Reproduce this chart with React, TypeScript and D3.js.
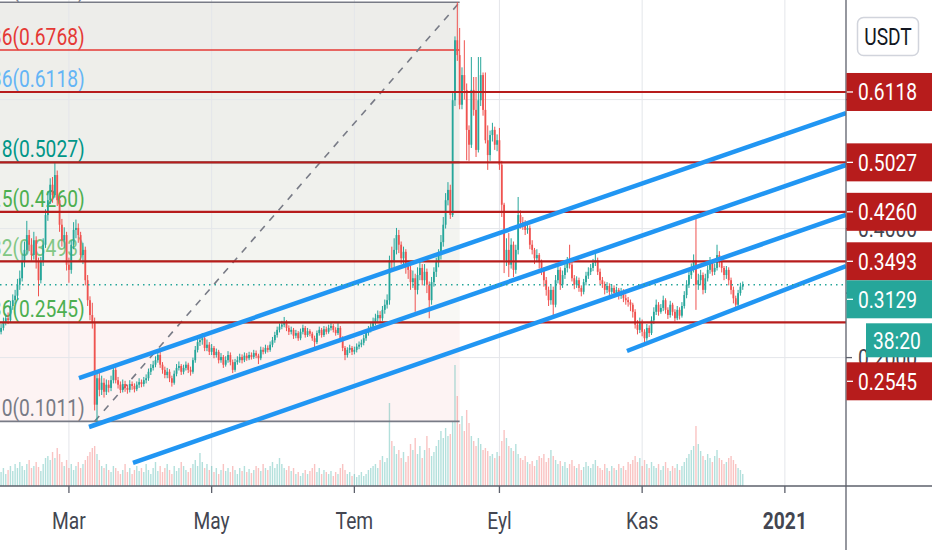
import React from 'react'
import * as d3 from 'd3'

// daily candles from 1 Feb 2020, open = previous close
const firstDay = Date.UTC(2020, 1, 1)
const firstOpen = 0.24
const closes = [
  0.246, 0.255, 0.261, 0.258, 0.280, 0.289, 0.296, 0.313, 0.323, 0.348,
  0.367, 0.390, 0.375, 0.359, 0.382, 0.348, 0.320, 0.348, 0.375, 0.421,
  0.444, 0.468, 0.452, 0.483, 0.444, 0.406, 0.382, 0.390, 0.344, 0.336,
  0.375, 0.398, 0.401, 0.390, 0.359, 0.367, 0.320, 0.289, 0.266, 0.255,
  0.127, 0.168, 0.150, 0.161, 0.147, 0.158, 0.153, 0.165, 0.181, 0.165,
  0.158, 0.150, 0.159, 0.153, 0.150, 0.159, 0.156, 0.151, 0.158, 0.162,
  0.159, 0.165, 0.168, 0.178, 0.184, 0.189, 0.196, 0.204, 0.189, 0.181,
  0.173, 0.178, 0.168, 0.161, 0.175, 0.184, 0.187, 0.178, 0.184, 0.189,
  0.181, 0.178, 0.196, 0.212, 0.224, 0.227, 0.230, 0.215, 0.220, 0.209,
  0.215, 0.204, 0.209, 0.196, 0.201, 0.189, 0.196, 0.204, 0.193, 0.181,
  0.193, 0.196, 0.201, 0.196, 0.203, 0.199, 0.204, 0.201, 0.207, 0.203,
  0.199, 0.212, 0.209, 0.215, 0.212, 0.220, 0.227, 0.235, 0.243, 0.248,
  0.251, 0.255, 0.246, 0.240, 0.243, 0.234, 0.238, 0.230, 0.240, 0.246,
  0.235, 0.241, 0.237, 0.230, 0.224, 0.238, 0.243, 0.235, 0.244, 0.240,
  0.246, 0.249, 0.243, 0.238, 0.246, 0.230, 0.215, 0.204, 0.212, 0.215,
  0.209, 0.212, 0.217, 0.220, 0.223, 0.230, 0.238, 0.243, 0.248, 0.255,
  0.261, 0.266, 0.261, 0.274, 0.282, 0.289, 0.351, 0.348, 0.367, 0.390,
  0.375, 0.354, 0.364, 0.344, 0.336, 0.317, 0.323, 0.305, 0.328, 0.339,
  0.320, 0.333, 0.313, 0.289, 0.317, 0.333, 0.348, 0.359, 0.379, 0.406,
  0.444, 0.460, 0.421, 0.599, 0.692, 0.669, 0.592, 0.638, 0.615, 0.553,
  0.530, 0.615, 0.584, 0.522, 0.599, 0.638, 0.584, 0.537, 0.514, 0.545,
  0.553, 0.530, 0.537, 0.499, 0.437, 0.351, 0.367, 0.344, 0.375, 0.336,
  0.367, 0.421, 0.410, 0.406, 0.398, 0.401, 0.375, 0.367, 0.354, 0.359,
  0.348, 0.336, 0.320, 0.305, 0.289, 0.305, 0.282, 0.320, 0.336, 0.313,
  0.328, 0.339, 0.348, 0.344, 0.323, 0.313, 0.320, 0.308, 0.302, 0.317,
  0.327, 0.333, 0.339, 0.347, 0.351, 0.333, 0.320, 0.314, 0.305, 0.311,
  0.302, 0.308, 0.300, 0.305, 0.296, 0.302, 0.292, 0.289, 0.286, 0.282,
  0.271, 0.251, 0.243, 0.255, 0.240, 0.230, 0.246, 0.238, 0.258, 0.271,
  0.282, 0.271, 0.277, 0.289, 0.274, 0.266, 0.282, 0.271, 0.261, 0.274,
  0.265, 0.280, 0.297, 0.313, 0.328, 0.339, 0.351, 0.313, 0.320, 0.328,
  0.305, 0.323, 0.336, 0.348, 0.333, 0.339, 0.359, 0.348, 0.339, 0.328,
  0.336, 0.320, 0.305, 0.292, 0.282, 0.300, 0.310, 0.3129,
]
const highs = [
  0.252, 0.262, 0.268, 0.270, 0.288, 0.298, 0.305, 0.322, 0.335, 0.360,
  0.380, 0.412, 0.398, 0.385, 0.395, 0.388, 0.355, 0.356, 0.385, 0.430,
  0.458, 0.478, 0.480, 0.503, 0.490, 0.450, 0.415, 0.402, 0.395, 0.355,
  0.382, 0.410, 0.414, 0.408, 0.395, 0.378, 0.372, 0.328, 0.295, 0.285,
  0.262, 0.180, 0.182, 0.172, 0.168, 0.166, 0.165, 0.172, 0.186, 0.185,
  0.170, 0.163, 0.166, 0.164, 0.158, 0.165, 0.163, 0.160, 0.163, 0.168,
  0.166, 0.170, 0.174, 0.183, 0.190, 0.195, 0.202, 0.212, 0.212, 0.193,
  0.186, 0.184, 0.182, 0.172, 0.180, 0.190, 0.194, 0.190, 0.189, 0.194,
  0.192, 0.186, 0.200, 0.218, 0.232, 0.234, 0.238, 0.234, 0.228, 0.224,
  0.221, 0.218, 0.214, 0.212, 0.207, 0.204, 0.202, 0.210, 0.208, 0.197,
  0.198, 0.202, 0.206, 0.205, 0.208, 0.207, 0.209, 0.208, 0.212, 0.211,
  0.206, 0.217, 0.216, 0.220, 0.219, 0.225, 0.232, 0.240, 0.248, 0.253,
  0.257, 0.263, 0.258, 0.250, 0.248, 0.246, 0.243, 0.241, 0.245, 0.251,
  0.249, 0.246, 0.244, 0.240, 0.234, 0.242, 0.248, 0.246, 0.249, 0.248,
  0.251, 0.254, 0.252, 0.247, 0.255, 0.249, 0.233, 0.218, 0.216, 0.220,
  0.218, 0.217, 0.222, 0.225, 0.228, 0.235, 0.243, 0.249, 0.254, 0.262,
  0.268, 0.273, 0.272, 0.280, 0.290, 0.298, 0.358, 0.372, 0.385, 0.401,
  0.398, 0.380, 0.372, 0.368, 0.350, 0.342, 0.335, 0.330, 0.340, 0.352,
  0.345, 0.345, 0.338, 0.318, 0.325, 0.340, 0.355, 0.368, 0.390, 0.418,
  0.455, 0.472, 0.468, 0.610, 0.698, 0.751, 0.711, 0.650, 0.692, 0.625,
  0.560, 0.666, 0.635, 0.635, 0.666, 0.666, 0.642, 0.642, 0.560, 0.552,
  0.564, 0.558, 0.546, 0.556, 0.505, 0.440, 0.385, 0.393, 0.385, 0.380,
  0.375, 0.449, 0.428, 0.418, 0.413, 0.410, 0.405, 0.382, 0.370, 0.368,
  0.362, 0.352, 0.340, 0.325, 0.310, 0.312, 0.310, 0.328, 0.345, 0.340,
  0.335, 0.346, 0.356, 0.375, 0.348, 0.328, 0.326, 0.324, 0.312, 0.322,
  0.333, 0.340, 0.345, 0.353, 0.362, 0.355, 0.338, 0.325, 0.318, 0.317,
  0.315, 0.314, 0.312, 0.310, 0.308, 0.308, 0.306, 0.298, 0.294, 0.290,
  0.285, 0.275, 0.258, 0.262, 0.259, 0.244, 0.252, 0.250, 0.264, 0.278,
  0.290, 0.286, 0.283, 0.296, 0.292, 0.278, 0.288, 0.285, 0.275, 0.280,
  0.278, 0.286, 0.303, 0.320, 0.335, 0.346, 0.360, 0.421, 0.330, 0.336,
  0.332, 0.330, 0.343, 0.356, 0.352, 0.346, 0.375, 0.365, 0.352, 0.342,
  0.342, 0.340, 0.324, 0.310, 0.296, 0.305, 0.316, 0.318,
]
const lows = [
  0.236, 0.242, 0.250, 0.252, 0.255, 0.274, 0.283, 0.290, 0.305, 0.318,
  0.340, 0.360, 0.365, 0.350, 0.352, 0.338, 0.295, 0.315, 0.342, 0.370,
  0.412, 0.438, 0.440, 0.448, 0.435, 0.395, 0.372, 0.370, 0.335, 0.316,
  0.330, 0.368, 0.385, 0.378, 0.350, 0.345, 0.312, 0.280, 0.258, 0.245,
  0.118, 0.101, 0.140, 0.142, 0.138, 0.142, 0.146, 0.148, 0.160, 0.160,
  0.152, 0.145, 0.146, 0.147, 0.144, 0.146, 0.150, 0.146, 0.148, 0.153,
  0.154, 0.155, 0.160, 0.164, 0.173, 0.180, 0.185, 0.192, 0.184, 0.175,
  0.168, 0.168, 0.162, 0.155, 0.158, 0.171, 0.180, 0.173, 0.174, 0.180,
  0.176, 0.172, 0.175, 0.192, 0.208, 0.218, 0.220, 0.210, 0.210, 0.204,
  0.204, 0.199, 0.200, 0.191, 0.192, 0.184, 0.186, 0.192, 0.188, 0.176,
  0.178, 0.189, 0.192, 0.191, 0.193, 0.195, 0.196, 0.197, 0.198, 0.199,
  0.190, 0.196, 0.205, 0.206, 0.208, 0.209, 0.216, 0.223, 0.231, 0.239,
  0.244, 0.247, 0.241, 0.235, 0.236, 0.229, 0.230, 0.226, 0.227, 0.236,
  0.231, 0.232, 0.233, 0.226, 0.212, 0.221, 0.234, 0.231, 0.232, 0.236,
  0.237, 0.242, 0.239, 0.234, 0.235, 0.226, 0.210, 0.196, 0.200, 0.207,
  0.204, 0.205, 0.208, 0.213, 0.216, 0.219, 0.226, 0.234, 0.239, 0.244,
  0.250, 0.255, 0.255, 0.257, 0.268, 0.276, 0.282, 0.335, 0.340, 0.360,
  0.362, 0.345, 0.340, 0.330, 0.322, 0.305, 0.308, 0.271, 0.298, 0.320,
  0.312, 0.312, 0.300, 0.261, 0.282, 0.310, 0.325, 0.340, 0.352, 0.372,
  0.400, 0.436, 0.415, 0.418, 0.590, 0.660, 0.585, 0.585, 0.600, 0.506,
  0.505, 0.525, 0.575, 0.511, 0.518, 0.590, 0.575, 0.532, 0.491, 0.505,
  0.535, 0.522, 0.520, 0.491, 0.418, 0.331, 0.342, 0.325, 0.338, 0.325,
  0.330, 0.360, 0.400, 0.398, 0.390, 0.392, 0.368, 0.360, 0.345, 0.348,
  0.338, 0.328, 0.310, 0.296, 0.280, 0.282, 0.263, 0.278, 0.315, 0.305,
  0.308, 0.322, 0.332, 0.338, 0.318, 0.306, 0.308, 0.302, 0.295, 0.298,
  0.312, 0.322, 0.328, 0.334, 0.342, 0.328, 0.314, 0.308, 0.298, 0.300,
  0.296, 0.298, 0.293, 0.295, 0.290, 0.291, 0.286, 0.282, 0.279, 0.272,
  0.262, 0.245, 0.236, 0.238, 0.233, 0.224, 0.226, 0.232, 0.235, 0.252,
  0.266, 0.265, 0.268, 0.272, 0.268, 0.260, 0.262, 0.265, 0.256, 0.258,
  0.259, 0.262, 0.276, 0.292, 0.308, 0.322, 0.332, 0.274, 0.305, 0.312,
  0.298, 0.300, 0.318, 0.330, 0.327, 0.328, 0.335, 0.340, 0.332, 0.320,
  0.322, 0.312, 0.298, 0.284, 0.278, 0.280, 0.296, 0.305,
]
// volume, millions
const volumes = [
  14, 18, 12, 16, 20, 15, 22, 18, 24, 20, 16, 22, 26, 18, 20, 24, 19, 15, 22, 28,
  30, 26, 34, 28, 38, 32, 24, 20, 26, 18, 22, 16, 20, 24, 18, 22, 26, 30, 34, 38,
  40, 32, 26, 20, 18, 22, 16, 14, 20, 18, 15, 12, 16, 22, 14, 18, 12, 16, 20, 15,
  18, 14, 22, 16, 12, 18, 24, 15, 20, 14, 18, 22, 16, 12, 20, 15, 18, 24, 20, 16,
  14, 18, 22, 26, 20, 33, 24, 18, 22, 16, 20, 14, 18, 12, 16, 22, 15, 18, 14, 20,
  16, 12, 18, 15, 20, 14, 17, 13, 16, 20, 18, 15, 22, 18, 16, 20, 24, 18, 22, 28,
  22, 18, 16, 20, 15, 18, 12, 14, 10, 13, 16, 12, 15, 18, 22, 14, 18, 12, 16, 14,
  12, 15, 10, 14, 12, 18, 22, 16, 12, 14, 10, 12, 9, 11, 14, 10, 12, 16, 18, 20,
  22, 18, 26, 30, 24, 28, 83, 45, 40, 32, 36, 28, 34, 24, 30, 42, 36, 48, 32, 40,
  28, 36, 50, 38, 30, 34, 40, 46, 55, 48, 58, 50, 52, 65, 121, 90, 62, 70, 55, 76,
  63, 50, 45, 40, 48, 42, 36, 38, 35, 30, 32, 28, 34, 30, 45, 56, 48, 40, 38, 35,
  42, 32, 28, 26, 30, 24, 22, 25, 20, 26, 30, 28, 32, 24, 28, 36, 30, 26, 22, 25,
  20, 24, 18, 22, 26, 20, 18, 22, 16, 19, 24, 20, 18, 22, 26, 20, 18, 16, 22, 18,
  15, 20, 18, 16, 22, 18, 20, 16, 24, 22, 26, 30, 24, 28, 20, 26, 22, 18, 24, 20,
  18, 22, 16, 20, 24, 18, 15, 20, 18, 22, 16, 20, 24, 28, 32, 36, 40, 60, 42, 35,
  30, 26, 32, 28, 24, 30, 36, 28, 26, 22, 24, 28, 30, 26, 22, 18, 16, 12,
]

// fibonacci retracement (low -> high)
const fibLowDate = Date.UTC(2020, 2, 12)
const fibHighDate = Date.UTC(2020, 7, 15)
const fibLow = 0.10113
const fibHigh = 0.75088
const fibLevels = [0, 0.236, 0.382, 0.5, 0.618, 0.786, 0.886, 1]
const fibColors = ['#787b86', '#4caf50', '#81c784', '#4caf50', '#009688', '#64b5f6', '#e53935', '#787b86']
const fibFills = ['#fdf3f3', '#f8f8f5', '#f3f4f0', '#f0f1ed', '#eeefeb', '#eeeeea', '#ededea']

// horizontal levels drawn by the user
const hLevels = [0.6118, 0.5027, 0.426, 0.3493, 0.2545]

// parallel channel lines: [date, price] -> [date, price]
const channels: [number, number, number, number][] = [
  [Date.UTC(2020, 2, 5, 7), 0.168, Date.UTC(2021, 0, 27, 3), 0.579],
  [Date.UTC(2020, 2, 9, 14), 0.0924, Date.UTC(2021, 0, 27, 3), 0.4986],
  [Date.UTC(2020, 2, 28, 9), 0.0366, Date.UTC(2021, 0, 27, 3), 0.4211],
  [Date.UTC(2020, 9, 25, 12), 0.2102, Date.UTC(2021, 0, 27, 3), 0.342],
]

const lastPrice = 0.3129
const countdown = '38:20'
const priceTicks = [0.2, 0.3, 0.4, 0.5, 0.6]
const gridPrices = [0.2, 0.4, 0.6]
const monthTicks = [
  Date.UTC(2020, 2, 1), Date.UTC(2020, 4, 1), Date.UTC(2020, 6, 1),
  Date.UTC(2020, 8, 1), Date.UTC(2020, 10, 1), Date.UTC(2021, 0, 1),
]
const monthLabels = ['Mar', 'May', 'Tem', 'Eyl', 'Kas', '2021']

const W = 932
const H = 550
const PR = 846 // price scale border
const PB = 486 // time scale border
const DAY = 86400000
const UP = '#26a69a'
const DOWN = '#ef5350'
const RED = '#b71c1c'
const FONT = 'Roboto, sans-serif'

const x = d3.scaleTime()
  .domain([new Date(Date.UTC(2020, 0, 31, 13)), new Date(Date.UTC(2021, 0, 27, 3))])
  .range([0, PR])
const y = d3.scaleLinear().domain([0, 0.7544]).range([486.6, 0])
const yVol = d3.scaleLinear().domain([0, 130]).range([0, 130])

const Txt = ({ tx, ty, anchor = 'start', fill, weight = 400, children }: any) => (
  <text transform={`translate(${tx},${ty}) scale(0.8,1)`} textAnchor={anchor}
    fill={fill} fontWeight={weight} fontSize={24} fontFamily={FONT}>{children}</text>
)

export default function App () {
  const candles = closes.map((c, i) => {
    const o = i === 0 ? firstOpen : closes[i - 1]
    return {
      t: firstDay + i * DAY, o, c,
      h: Math.max(highs[i], o, c), l: Math.min(lows[i], o, c), v: volumes[i]
    }
  })

  const fibX0 = -60
  const fibX1 = x(new Date(fibHighDate))
  const fibPrices = fibLevels.map(l => fibLow + l * (fibHigh - fibLow))

  // right scale labels, pushed down when they collide
  const boxH = 38
  const cdGap = 5
  const cdH = 34
  const labels = [
    ...hLevels.map(p => ({ p, text: p.toFixed(4), color: RED, h: boxH, last: false })),
    { p: lastPrice, text: lastPrice.toFixed(4), color: UP, h: boxH + cdGap + cdH, last: true },
  ].sort((a, b) => y(a.p) - y(b.p))
  let bottom = -Infinity
  const placed = labels.map(lb => {
    const top = Math.max(y(lb.p) - boxH / 2, bottom + (lb.last ? 0 : 5))
    bottom = top + lb.h
    return { ...lb, top }
  })

  return (
    <svg width={W} height={H} style={{ position: 'absolute', left: 0, top: 0, background: '#fff' }}>
      <defs>
        <clipPath id="plot"><rect x={0} y={0} width={PR} height={PB} /></clipPath>
      </defs>
      <rect width={W} height={H} fill="#fff" />
      <g clipPath="url(#plot)">
        {/* fib zones */}
        {fibFills.map((f, i) => (
          <rect key={'ff' + i} x={fibX0} width={fibX1 - fibX0}
            y={y(fibPrices[i + 1])} height={y(fibPrices[i]) - y(fibPrices[i + 1])} fill={f} />
        ))}
        {/* grid */}
        {monthTicks.map(t => (
          <line key={'gv' + t} x1={x(new Date(t))} x2={x(new Date(t))} y1={0} y2={PB} stroke="#e4e6ea" strokeWidth={1} />
        ))}
        {gridPrices.map(p => (
          <line key={'gh' + p} x1={0} x2={PR} y1={y(p)} y2={y(p)} stroke="#e4e6ea" strokeWidth={1} />
        ))}
        {/* volume */}
        {candles.map(d => (
          <rect key={'v' + d.t} x={x(new Date(d.t)) - 0.7} width={1.4} y={PB - yVol(d.v)} height={yVol(d.v)}
            fill={d.c >= d.o ? 'rgba(38,166,154,0.35)' : 'rgba(239,83,80,0.35)'} />
        ))}
        {/* fib lines and labels */}
        {fibPrices.map((p, i) => (
          <line key={'fl' + i} x1={fibX0} x2={fibX1} y1={y(p)} y2={y(p)} stroke={fibColors[i]} strokeWidth={1.6} />
        ))}
        <line x1={x(new Date(fibLowDate))} y1={y(fibLow)} x2={fibX1} y2={y(fibHigh)}
          stroke="#787b86" strokeWidth={1.6} strokeDasharray="7 7" />
        {fibPrices.map((p, i) => (
          <Txt key={'ft' + i} tx={x(new Date(fibLowDate)) - 10} ty={y(p) - 5} anchor="end" fill={fibColors[i]}>
            {`${fibLevels[i]}(${p.toFixed(4)})`}
          </Txt>
        ))}
        {/* candles */}
        {candles.map(d => {
          const cx = x(new Date(d.t))
          const col = d.c >= d.o ? UP : DOWN
          const top = y(Math.max(d.o, d.c))
          const bh = Math.max(1, y(Math.min(d.o, d.c)) - top)
          return (
            <g key={'c' + d.t}>
              <line x1={cx} x2={cx} y1={y(d.h)} y2={y(d.l)} stroke={col} strokeWidth={1} />
              <rect x={cx - 0.9} width={1.8} y={top} height={bh} fill={col} />
            </g>
          )
        })}
        {/* horizontal levels */}
        {hLevels.map(p => (
          <line key={'hl' + p} x1={0} x2={PR} y1={y(p)} y2={y(p)} stroke={RED} strokeWidth={2.2} />
        ))}
        {/* channels */}
        {channels.map((c, i) => (
          <line key={'ch' + i} x1={x(new Date(c[0]))} y1={y(c[1])} x2={x(new Date(c[2]))} y2={y(c[3])}
            stroke="#2196f3" strokeWidth={4.5} strokeLinecap="butt" />
        ))}
        {/* last price */}
        <line x1={0} x2={PR} y1={y(lastPrice)} y2={y(lastPrice)} stroke={UP} strokeWidth={1.5} strokeDasharray="1.5 4" />
      </g>

      {/* axes */}
      <line x1={PR} x2={PR} y1={0} y2={H} stroke="#5d606b" strokeWidth={1.3} />
      <line x1={0} x2={W} y1={PB} y2={PB} stroke="#5d606b" strokeWidth={1.3} />
      {monthTicks.map((t, i) => (
        <g key={'mt' + t}>
          <line x1={x(new Date(t))} x2={x(new Date(t))} y1={PB} y2={PB + 7} stroke="#5d606b" strokeWidth={1.3} />
          <Txt tx={x(new Date(t))} ty={529} anchor="middle" fill="#434651" weight={monthLabels[i] === '2021' ? 700 : 400}>
            {monthLabels[i]}
          </Txt>
        </g>
      ))}
      {priceTicks.map(p => (
        <g key={'pt' + p}>
          <line x1={PR} x2={PR + 6} y1={y(p)} y2={y(p)} stroke="#5d606b" strokeWidth={1.3} />
          <Txt tx={858} ty={y(p) + 8.5} fill="#434651">{p.toFixed(4)}</Txt>
        </g>
      ))}

      {/* price labels */}
      {placed.map(lb => (
        <g key={'lb' + lb.text}>
          <rect x={PR + 0.5} y={lb.top} width={W - PR} height={boxH} fill={lb.color} />
          <line x1={PR + 1} x2={PR + 7} y1={lb.top + boxH / 2} y2={lb.top + boxH / 2} stroke="#fff" strokeWidth={1.3} />
          <Txt tx={858} ty={lb.top + boxH / 2 + 8.5} fill="#fff">{lb.text}</Txt>
          {lb.last && (
            <g>
              <rect x={866} y={lb.top + boxH + cdGap} width={W - 866} height={cdH} fill={UP} />
              <Txt tx={873} ty={lb.top + boxH + cdGap + cdH / 2 + 8.5} fill="#fff">{countdown}</Txt>
            </g>
          )}
        </g>
      ))}

      {/* currency button */}
      <rect x={857.5} y={17.5} width={61} height={38} rx={6} fill="#fff" stroke="#d1d4dc" strokeWidth={1.5} />
      <Txt tx={888} ty={45} anchor="middle" fill="#131722">USDT</Txt>
    </svg>
  )
}
